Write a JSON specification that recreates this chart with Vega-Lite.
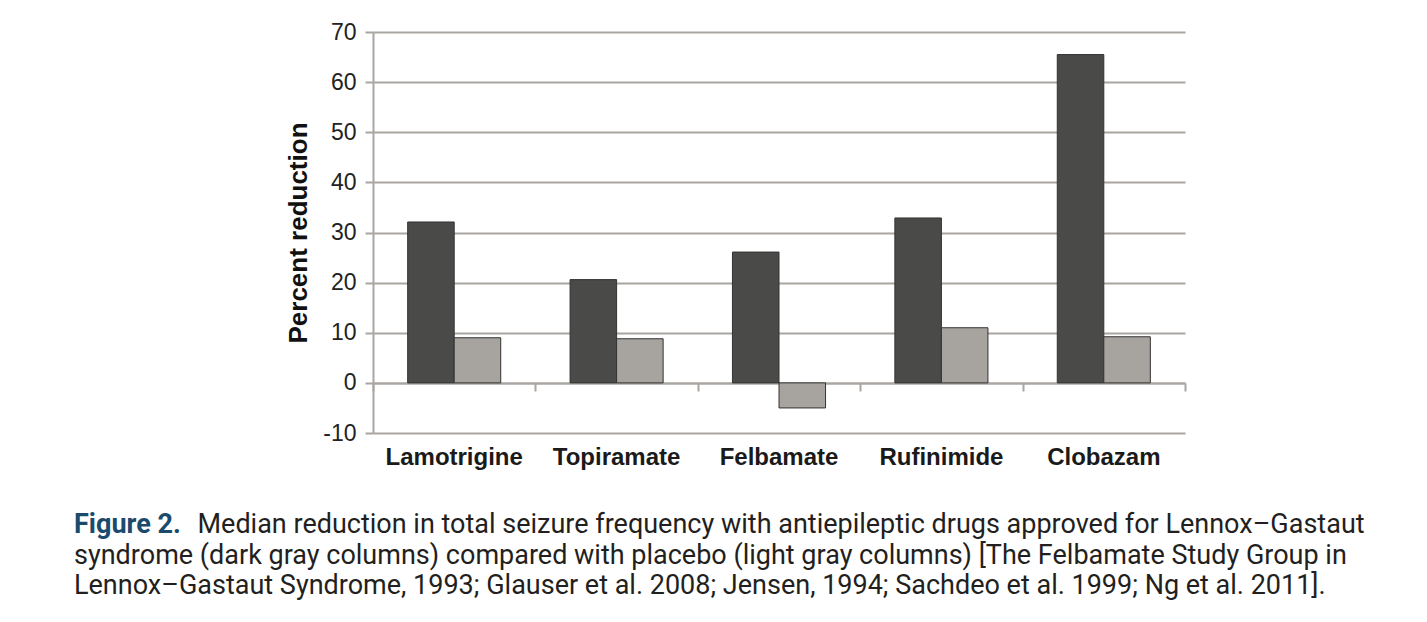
{
  "$schema": "https://vega.github.io/schema/vega-lite/v6.json",
  "width": 812,
  "height": 401,
  "autosize": "none",
  "padding": {"left": 373, "top": 32, "right": 242, "bottom": 189},
  "background": "white",
  "config": {"view": {"stroke": null}},
  "data": {
    "values": [
      {"drug": "Lamotrigine", "group": "Drug", "value": 32.1},
      {"drug": "Lamotrigine", "group": "Placebo", "value": 9.0},
      {"drug": "Topiramate", "group": "Drug", "value": 20.6},
      {"drug": "Topiramate", "group": "Placebo", "value": 8.8},
      {"drug": "Felbamate", "group": "Drug", "value": 26.1},
      {"drug": "Felbamate", "group": "Placebo", "value": -5.0},
      {"drug": "Rufinimide", "group": "Drug", "value": 32.9},
      {"drug": "Rufinimide", "group": "Placebo", "value": 11.0},
      {"drug": "Clobazam", "group": "Drug", "value": 65.5},
      {"drug": "Clobazam", "group": "Placebo", "value": 9.2}
    ]
  },
  "title": {
    "text": "Figure 2.",
    "subtitle": [
      "syndrome (dark gray columns) compared with placebo (light gray columns) [The Felbamate Study Group in",
      "Lennox–Gastaut Syndrome, 1993; Glauser et al. 2008; Jensen, 1994; Sachdeo et al. 1999; Ng et al. 2011]."
    ],
    "orient": "bottom",
    "anchor": "start",
    "frame": "group",
    "dx": -299,
    "dy": -55,
    "font": "Roboto",
    "fontSize": 27,
    "fontWeight": "bold",
    "color": "#1b4b6c",
    "lineHeight": 27,
    "subtitleFont": "Roboto",
    "subtitleFontSize": 27,
    "subtitleFontWeight": "normal",
    "subtitleColor": "#231f20",
    "subtitleLineHeight": 30.5,
    "subtitlePadding": 3.5,
    "offset": 30
  },
  "resolve": {"axis": {"x": "independent"}},
  "layer": [
    {
      "mark": {"type": "bar", "stroke": "#333333", "strokeWidth": 1},
      "encoding": {
        "x": {
          "field": "drug", "type": "nominal", "sort": null,
          "scale": {"paddingInner": 0, "paddingOuter": 0},
          "axis": {"orient": "bottom", "title": null, "domain": false, "ticks": false, "labelAngle": 0,
                   "labelFontSize": 24, "labelFontWeight": "bold", "labelPadding": 12, "labelColor": "#1a1a1a", "labelFont": "Liberation Sans"}
        },
        "xOffset": {"field": "group", "type": "nominal", "sort": ["Drug", "Placebo"],
                    "scale": {"paddingInner": 0, "paddingOuter": 0.745}},
        "y": {
          "field": "value", "type": "quantitative",
          "scale": {"domain": [-10, 70], "nice": false, "zero": false},
          "axis": {
            "title": "Percent reduction", "titleFont": "Liberation Sans", "titleFontSize": 26,
            "titleFontWeight": "bold", "titleColor": "#111111", "titlePadding": 11,
            "values": [-10, 0, 10, 20, 30, 40, 50, 60, 70],
            "labelExpr": "toString(datum.value)",
            "labelFont": "Liberation Sans", "labelFontSize": 23, "labelColor": "#222222", "labelPadding": 9,
            "grid": true, "gridColor": "#a9a5a1", "gridWidth": 2,
            "domainColor": "#a9a5a1", "domainWidth": 2,
            "tickColor": "#a9a5a1", "tickWidth": 2, "tickSize": 8
          }
        },
        "color": {"field": "group", "type": "nominal",
                  "scale": {"domain": ["Drug", "Placebo"], "range": ["#4a4a48", "#a7a49f"]},
                  "legend": null}
      }
    },
    {
      "mark": {"type": "rule", "opacity": 0},
      "encoding": {
        "x": {
          "field": "drug", "type": "nominal", "sort": null,
          "axis": {"orient": "bottom", "offset": -50, "labels": false, "domain": true,
                   "ticks": true, "tickBand": "extent", "tickSize": 8, "tickColor": "#a9a5a1", "tickWidth": 2,
                   "domainColor": "#a9a5a1", "domainWidth": 2,
                   "title": "Median reduction in total seizure frequency with antiepileptic drugs approved for Lennox–Gastaut",
                   "titleFont": "Roboto", "titleFontSize": 27, "titleFontWeight": "normal", "titleColor": "#231f20",
                   "titleAlign": "left", "titleBaseline": "top", "titleAnchor": "start",
                   "titleX": -176, "titleY": 128}
        }
      }
    }
  ]
}
